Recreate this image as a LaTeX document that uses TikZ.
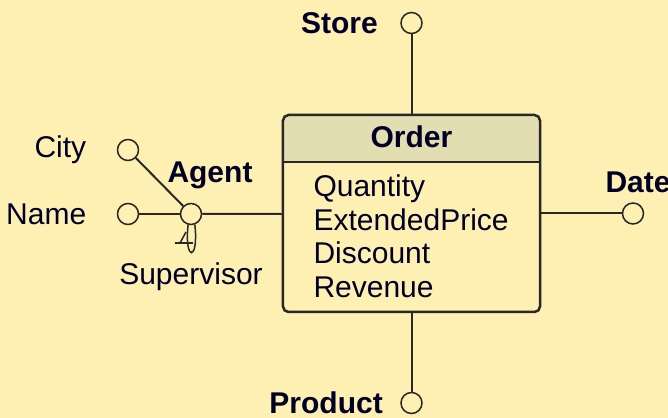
\documentclass[tikz,border=0pt]{standalone}
\usepackage{fontspec}
\setmainfont{Liberation Sans}
\usetikzlibrary{positioning,calc}

\definecolor{paper}{RGB}{254,239,178}
\definecolor{header}{RGB}{226,222,178}
\definecolor{ink}{RGB}{40,40,40}

\begin{document}
\begin{tikzpicture}[
    x=0.4pt, y=-0.4pt,
    font=\fontsize{12}{13.5}\selectfont,
    attr/.style={circle, draw=ink, line width=0.6pt, fill=paper, inner sep=0pt, minimum size=8.4pt},
    lbl/.style={inner sep=0pt, text=black!85!blue},
    dim/.style={lbl, font=\fontsize{12}{13.5}\selectfont\bfseries},
    fact/.style={rectangle, draw=ink, line width=1pt, rounded corners=2.2pt, fill=paper,
        minimum width=102.8pt, minimum height=78.8pt,
        path picture={
            \fill[header] (path picture bounding box.north west) rectangle ([yshift=-18.8pt]path picture bounding box.north east);
            \draw[ink, line width=0.8pt] ([yshift=-18.8pt]path picture bounding box.north west) -- ([yshift=-18.8pt]path picture bounding box.north east);
        }},
    link/.style={draw=ink, line width=0.8pt}
]
    \useasboundingbox[fill=paper] (0,0) rectangle (668,418);

    % fact table
    \node[fact] (order) at (411.5,213.5) {};
    \node[dim] (ordername) at ($(order.north)+(0,23)$) {Order};
    \foreach \m/\yy in {Quantity/197, ExtendedPrice/230.5, Discount/264, Revenue/297.5}
        \node[lbl, anchor=base west] (m-\m) at (313,\yy) {\m};

    % dimensions
    \node[attr] (store) at (411.5,23) {};
    \node[dim, left=8.8pt of store] (storename) {Store};
    \node[attr] (product) at (411.5,403) {};
    \node[dim, left=6.8pt of product] (productname) {Product};
    \node[attr] (date) at (633,213.5) {};
    \node[dim, anchor=west] (datename) at (605,182) {Date};

    % agent level with its attributes
    \node[attr] (agent) at (191,214) {};
    \node[dim] (agentname) at (210,175) {Agent};
    \node[attr] (name) at (128,214) {};
    \node[lbl, left=12pt of name] (namename) {Name};
    \node[attr] (city) at (128,150) {};
    \node[lbl, left=12pt of city] (cityname) {City};
    \node[lbl] (supervisor) at (191,277) {Supervisor};

    \draw[link] (store) -- (order);
    \draw[link] (product) -- (order);
    \draw[link] (date) -- (order);
    \draw[link] (agent) -- (order);
    \draw[link] (name) -- (agent);
    \draw[link] (city) -- (agent);

    % recursive role
    \draw[link, line width=0.6pt] (agent.-105) .. controls (184,262) and (199,262) .. (agent.-70);
    \draw[link, line width=0.6pt] (186,232) -- (180,243);
    \draw[link, line width=0.6pt] (175,243) -- (193,243);
\end{tikzpicture}
\end{document}
